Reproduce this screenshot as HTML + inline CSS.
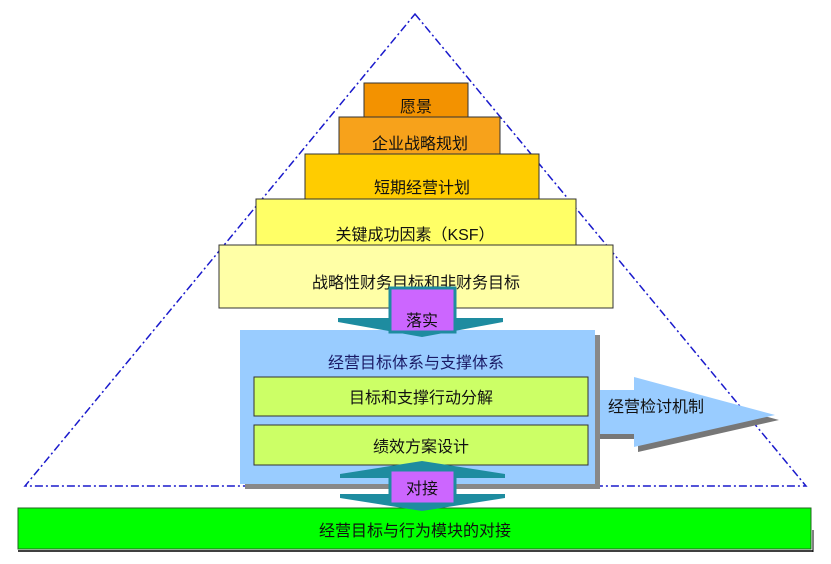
<!DOCTYPE html>
<html><head><meta charset="utf-8"><style>
html,body{margin:0;padding:0;background:#fff;width:831px;height:564px;overflow:hidden}
text{font-family:"Liberation Sans","Noto Sans CJK SC",sans-serif;font-size:16px;fill:#111}
</style></head><body>
<svg width="831" height="564" viewBox="0 0 831 564" xmlns="http://www.w3.org/2000/svg">
<polygon points="415,14 806,486 25,486" fill="none" stroke="#1a1acc" stroke-width="1.5" stroke-dasharray="8,3,2,3"/>
<rect x="364" y="83" width="104" height="34" fill="#f39200" stroke="#333"/>
<rect x="339" y="117" width="161" height="37" fill="#f7a21b" stroke="#333"/>
<rect x="305" y="154" width="234" height="45" fill="#ffcc00" stroke="#333"/>
<rect x="256" y="199" width="320" height="46" fill="#ffff66" stroke="#333"/>
<rect x="219" y="245" width="394" height="63" fill="#ffffa6" stroke="#333"/>
<text x="416" y="112" text-anchor="middle">愿景</text>
<text x="420" y="149" text-anchor="middle">企业战略规划</text>
<text x="422" y="193" text-anchor="middle">短期经营计划</text>
<text x="415" y="240" text-anchor="middle">关键成功因素（KSF）</text>
<text x="416" y="288" text-anchor="middle">战略性财务目标和非财务目标</text>
<polygon points="600,395 638,395 638,382 779,420 638,452 638,439 600,439" fill="#777"/>
<polygon points="595,390 634,390 634,377 775,415 634,447 634,434 595,434" fill="#99ccff"/>
<text x="608" y="412">经营检讨机制</text>
<rect x="245" y="335" width="355" height="154" fill="#888"/>
<rect x="240" y="330" width="355" height="154" fill="#99ccff"/>
<text x="416" y="368" text-anchor="middle" style="fill:#1a1a66">经营目标体系与支撑体系</text>
<rect x="254" y="377" width="334" height="39" fill="#ccff66" stroke="#333"/>
<rect x="254" y="425" width="334" height="40" fill="#ccff66" stroke="#333"/>
<text x="421" y="403" text-anchor="middle">目标和支撑行动分解</text>
<text x="421" y="452" text-anchor="middle">绩效方案设计</text>
<polygon points="338,318 503,318 503,322 422,337 338,322" fill="#1e8ca0"/>
<rect x="390" y="288" width="65" height="44" fill="#cc66ff" stroke="#1e8ca0" stroke-width="3"/>
<text x="422" y="326" text-anchor="middle">落实</text>
<rect x="18" y="508" width="793" height="41" fill="#00ff00" stroke="#226622"/>
<line x1="18" y1="551" x2="813" y2="551" stroke="#000" stroke-width="1.5"/>
<line x1="813" y1="530" x2="813" y2="552" stroke="#000" stroke-width="1"/>
<text x="415" y="536" text-anchor="middle">经营目标与行为模块的对接</text>
<polygon points="340,474 422,461 505,474 505,478 340,478" fill="#1e8ca0"/>
<polygon points="340,494 505,494 505,498 422,511 340,498" fill="#1e8ca0"/>
<rect x="390" y="470" width="65" height="34" fill="#cc66ff" stroke="#1e8ca0" stroke-width="3"/>
<text x="422" y="494" text-anchor="middle">对接</text>
</svg>
</body></html>
